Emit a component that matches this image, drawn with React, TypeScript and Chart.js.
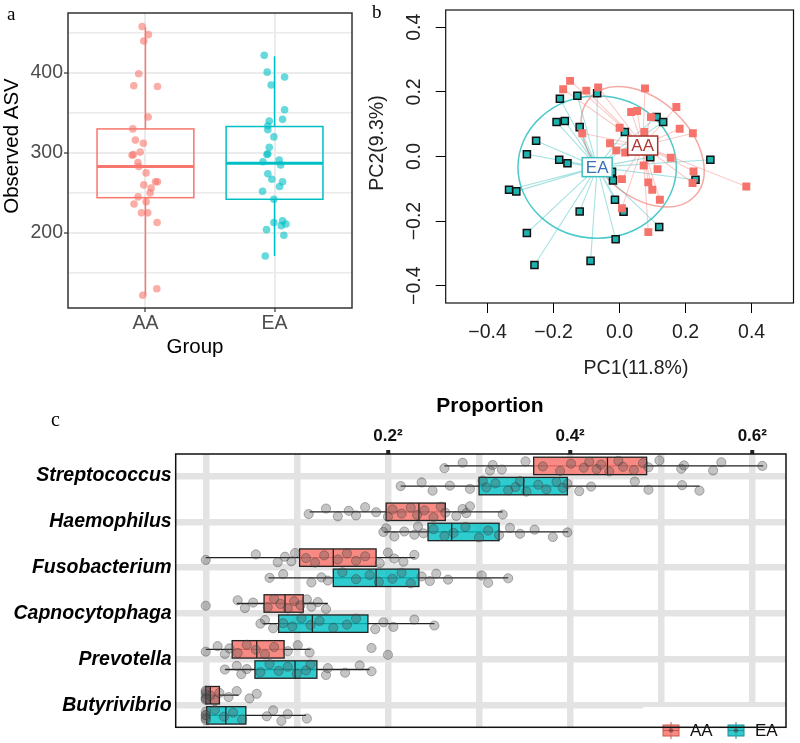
import React, { useEffect, useRef } from 'react';
import { Chart, registerables } from 'chart.js';

Chart.register(...registerables);

const SANS = '"Liberation Sans", Arial, Helvetica, sans-serif';
const SERIF = '"Liberation Serif", "DejaVu Serif", "Times New Roman", serif';
Chart.defaults.font.family = SANS;

const AA_COLOR = '#F8766D';
const EA_COLOR = '#00BFC4';

// ---------------- Panel a : observed ASV ----------------
const A_GROUPS = ['AA', 'EA'];
const A_Y_TICKS = [150, 200, 250, 300, 350, 400, 450];
const A_Y_LABELLED = [200, 300, 400];
// [lower whisker, Q1, median, Q3, upper whisker]
const A_AA_BOX = [122, 244, 283, 330, 457];
const A_EA_BOX = [171, 242, 287, 333, 421];
const A_AA_VALUES = [458, 448, 440, 399, 384, 383, 345, 330, 316, 312, 297, 298, 301, 288, 283, 275, 260, 264, 264, 256, 250, 245, 239, 236, 225, 225, 213, 130, 122];
const A_AA_JITTER = [-0.026, 0.023, -0.013, -0.052, -0.09, 0.093, 0.021, -0.098, -0.078, -0.016, -0.103, -0.094, -0.041, -0.059, -0.052, 0.005, -0.013, 0.093, 0.078, 0.044, 0.036, -0.057, 0.005, -0.088, -0.031, 0.018, 0.09, 0.088, -0.021];
const A_EA_VALUES = [422, 401, 395, 385, 354, 340, 342, 334, 329, 320, 307, 299, 298, 291, 289, 285, 274, 267, 264, 258, 252, 242, 213, 215, 211, 209, 204, 197, 171];
const A_EA_JITTER = [-0.08, -0.057, 0.078, -0.026, 0.078, -0.041, 0.062, -0.052, -0.052, -0.005, -0.041, -0.052, -0.059, 0.036, -0.09, 0.047, -0.052, -0.021, 0.062, 0.039, -0.093, -0.005, -0.005, 0.062, 0.088, 0.052, -0.062, 0.072, -0.072];

// ---------------- Panel b : PCoA ----------------
const B_TICKS = [-0.4, -0.2, 0, 0.2, 0.4];
const B_TICK_LABELS = ['\u22120.4', '\u22120.2', '0.0', '0.2', '0.4'];
const B_AA_X = [-0.15, -0.171, -0.101, -0.065, 0.077, 0.172, 0.035, 0.053, 0.095, 0.0, -0.113, 0.075, 0.182, 0.222, -0.029, -0.01, 0.017, 0.155, 0.073, 0.115, 0.007, 0.224, 0.221, 0.087, 0.099, 0.122, 0.007, 0.087, 0.384];
const B_AA_Y = [0.234, 0.208, 0.204, 0.214, 0.211, 0.153, 0.138, 0.141, 0.122, 0.089, 0.072, 0.076, 0.086, 0.072, 0.041, 0.019, 0.012, -0.004, -0.028, -0.039, -0.07, -0.046, -0.082, -0.08, -0.103, -0.134, -0.16, -0.234, -0.093];
const B_EA_X = [-0.181, -0.128, -0.068, -0.191, -0.166, -0.121, -0.253, -0.281, -0.183, -0.158, 0.016, 0.112, 0.132, 0.093, 0.275, -0.023, -0.02, 0.23, -0.335, -0.313, -0.014, 0.012, -0.121, 0.12, -0.281, -0.012, -0.088, -0.258];
const B_EA_Y = [0.179, 0.188, 0.196, 0.107, 0.11, 0.091, 0.049, 0.007, -0.01, -0.021, 0.076, 0.122, 0.107, -0.002, -0.01, -0.047, -0.074, -0.072, -0.103, -0.108, -0.134, -0.171, -0.17, -0.218, -0.237, -0.256, -0.323, -0.336];
const B_AA_CENTROID = [0.07, 0.034];
const B_EA_CENTROID = [-0.068, -0.033];
// [centre x, centre y, semi-axis a, semi-axis b, angle (deg)]
const B_AA_ELLIPSE = [0.07, 0.03, 0.22, 0.145, -45];
const B_EA_ELLIPSE = [-0.068, -0.033, 0.24, 0.22, 0];

// ---------------- Panel c : proportions ----------------
const C_CATEGORIES = ['Streptococcus', 'Haemophilus', 'Fusobacterium', 'Capnocytophaga', 'Prevotella', 'Butyrivibrio'];
const C_X_GRID = [0, 0.1, 0.2, 0.3, 0.4, 0.5, 0.6];
const C_X_LABELLED = [0.2, 0.4, 0.6];
const C_AA_BOX = [
  [0.262, 0.36, 0.441, 0.484, 0.612],
  [0.114, 0.198, 0.234, 0.263, 0.326],
  [0.0, 0.103, 0.14, 0.187, 0.23],
  [0.034, 0.064, 0.087, 0.107, 0.134],
  [0.0, 0.029, 0.056, 0.086, 0.115],
  [0.0, 0.0, 0.005, 0.015, 0.036],
];
const C_EA_BOX = [
  [0.214, 0.3, 0.349, 0.397, 0.542],
  [0.196, 0.244, 0.27, 0.322, 0.398],
  [0.069, 0.14, 0.187, 0.234, 0.332],
  [0.063, 0.08, 0.117, 0.178, 0.251],
  [0.021, 0.054, 0.098, 0.122, 0.18],
  [0.0, 0.001, 0.022, 0.044, 0.11],
];
const C_AA_POINTS = [
  [0.262, 0.282, 0.312, 0.315, 0.325, 0.351, 0.37, 0.389, 0.401, 0.415, 0.421, 0.429, 0.434, 0.443, 0.453, 0.458, 0.47, 0.48, 0.486, 0.498, 0.522, 0.525, 0.557, 0.566, 0.611],
  [0.113, 0.132, 0.145, 0.157, 0.165, 0.175, 0.187, 0.2, 0.205, 0.215, 0.225, 0.232, 0.24, 0.25, 0.258, 0.263, 0.275, 0.282, 0.286, 0.29, 0.326],
  [0.0, 0.055, 0.079, 0.087, 0.094, 0.098, 0.11, 0.12, 0.13, 0.145, 0.155, 0.165, 0.175, 0.191, 0.2, 0.207, 0.217, 0.229],
  [0.0, 0.035, 0.043, 0.052, 0.068, 0.075, 0.082, 0.09, 0.097, 0.104, 0.111, 0.116, 0.123, 0.132],
  [0.0, 0.013, 0.021, 0.026, 0.035, 0.045, 0.055, 0.065, 0.075, 0.09, 0.101, 0.114, 0.182, 0.2],
  [0.0, 0.0, 0.0, 0.0, 0.0, 0.0, 0.005, 0.01, 0.015, 0.025, 0.034, 0.048, 0.056],
];
const C_EA_POINTS = [
  [0.214, 0.237, 0.249, 0.268, 0.29, 0.304, 0.308, 0.318, 0.332, 0.34, 0.345, 0.352, 0.365, 0.374, 0.385, 0.392, 0.397, 0.41, 0.423, 0.471, 0.486, 0.523, 0.542],
  [0.195, 0.198, 0.207, 0.218, 0.229, 0.233, 0.239, 0.25, 0.262, 0.272, 0.285, 0.3, 0.31, 0.322, 0.334, 0.345, 0.361, 0.381, 0.397],
  [0.07, 0.085, 0.116, 0.127, 0.134, 0.15, 0.165, 0.18, 0.19, 0.205, 0.215, 0.225, 0.237, 0.246, 0.253, 0.266, 0.303, 0.31, 0.332],
  [0.06, 0.065, 0.074, 0.085, 0.095, 0.105, 0.115, 0.125, 0.14, 0.155, 0.165, 0.186, 0.195, 0.206, 0.229, 0.251],
  [0.021, 0.034, 0.039, 0.045, 0.06, 0.07, 0.08, 0.09, 0.1, 0.11, 0.115, 0.132, 0.134, 0.153, 0.169, 0.182],
  [0.0, 0.0, 0.0, 0.0, 0.0, 0.01, 0.02, 0.03, 0.04, 0.067, 0.074, 0.083, 0.09, 0.111],
];
const C_JITTER = [0.05, -0.07, 0.1, -0.02, 0.08, -0.1, 0.01, 0.11, -0.05, 0.04, -0.09, 0.07, -0.03, 0.12, -0.11, 0.02, 0.09, -0.06, 0.03, -0.12, 0.06, -0.01, 0.1, -0.08, 0.0];
const C_DODGE = 0.22;
const C_BOX_HALF = 0.19;

// ---------------- helpers ----------------
type TextItem = { text: string; x: number; y: number; font: string; color: string; rot?: number; align?: CanvasTextAlign; base?: CanvasTextBaseline };

const textPlugin = (id: string, items: TextItem[]) => ({
  id,
  afterDraw(chart: any) {
    const ctx = chart.ctx as CanvasRenderingContext2D;
    items.forEach((t) => {
      ctx.save();
      ctx.translate(t.x, t.y);
      if (t.rot) ctx.rotate(t.rot);
      ctx.font = t.font;
      ctx.fillStyle = t.color;
      ctx.textAlign = t.align || 'center';
      ctx.textBaseline = t.base || 'middle';
      ctx.fillText(t.text, 0, 0);
      ctx.restore();
    });
  },
});

const framePlugin = (id: string, color: string, width: number) => ({
  id,
  afterDatasetsDraw(chart: any) {
    const { ctx, chartArea: a } = chart;
    ctx.save();
    ctx.strokeStyle = color;
    ctx.lineWidth = width;
    ctx.strokeRect(a.left, a.top, a.right - a.left, a.bottom - a.top);
    ctx.restore();
  },
});

const setTicks = (vals: number[]) => (scale: any) => {
  scale.ticks = vals.map((v) => ({ value: v }));
};

// ---------------- Panel a config ----------------
const boxPluginA = {
  id: 'boxA',
  beforeDatasetsDraw(chart: any) {
    const { ctx, scales } = chart;
    const x = scales.x, y = scales.y;
    const items: [number[], number, string][] = [
      [A_AA_BOX, 1, AA_COLOR],
      [A_EA_BOX, 2, EA_COLOR],
    ];
    items.forEach(([b, pos, col]) => {
      const xc = x.getPixelForValue(pos);
      const xl = x.getPixelForValue(pos - 0.375);
      const xr = x.getPixelForValue(pos + 0.375);
      ctx.save();
      ctx.strokeStyle = col;
      ctx.lineWidth = 1.5;
      ctx.beginPath();
      ctx.moveTo(xc, y.getPixelForValue(b[0]));
      ctx.lineTo(xc, y.getPixelForValue(b[1]));
      ctx.moveTo(xc, y.getPixelForValue(b[3]));
      ctx.lineTo(xc, y.getPixelForValue(b[4]));
      ctx.stroke();
      const yt = y.getPixelForValue(b[3]);
      const yb = y.getPixelForValue(b[1]);
      ctx.strokeRect(xl, yt, xr - xl, yb - yt);
      ctx.lineWidth = 3;
      ctx.beginPath();
      const ym = y.getPixelForValue(b[2]);
      ctx.moveTo(xl, ym);
      ctx.lineTo(xr, ym);
      ctx.stroke();
      ctx.restore();
    });
  },
};

const configA = (): any => ({
  type: 'scatter',
  data: {
    datasets: [
      {
        label: 'AA',
        data: A_AA_VALUES.map((v, i) => ({ x: 1 + A_AA_JITTER[i], y: v })),
        backgroundColor: 'rgba(248,118,109,0.6)',
        borderWidth: 0,
        pointRadius: 3.8,
      },
      {
        label: 'EA',
        data: A_EA_VALUES.map((v, i) => ({ x: 2 + A_EA_JITTER[i], y: v })),
        backgroundColor: 'rgba(0,191,196,0.6)',
        borderWidth: 0,
        pointRadius: 3.8,
      },
    ],
  },
  options: {
    responsive: false,
    animation: false,
    events: [],
    layout: { padding: { left: 8, top: 13, right: 448, bottom: 395 } },
    plugins: { legend: { display: false }, tooltip: { enabled: false } },
    scales: {
      x: {
        type: 'linear',
        min: 0.4,
        max: 2.6,
        afterBuildTicks: setTicks([1, 2]),
        afterFit: (s: any) => { s.height = 40; },
        ticks: {
          callback: (v: number) => A_GROUPS[v - 1],
          font: { size: 19.5, family: SANS },
          color: '#4d4d4d',
          padding: 0,
          maxRotation: 0,
          autoSkip: false,
        },
        grid: { color: '#ebebeb', lineWidth: 2, tickColor: '#333', tickLength: 4, tickWidth: 1.2 },
        border: { display: false },
      },
      y: {
        type: 'linear',
        min: 106,
        max: 475,
        afterBuildTicks: setTicks(A_Y_TICKS),
        afterFit: (s: any) => { s.width = 60; },
        ticks: {
          callback: (v: number) => (A_Y_LABELLED.includes(v) ? String(v) : ''),
          font: { size: 19.5, family: SANS },
          color: '#4d4d4d',
          padding: 1,
          autoSkip: false,
        },
        grid: {
          color: '#ebebeb',
          lineWidth: (c: any) => (A_Y_LABELLED.includes(c.tick && c.tick.value) ? 2 : 1.4),
          tickColor: (c: any) => (A_Y_LABELLED.includes(c.tick && c.tick.value) ? '#333' : 'rgba(0,0,0,0)'),
          tickLength: 4,
          tickWidth: 1.2,
        },
        border: { display: false },
      },
    },
  },
  plugins: [
    boxPluginA,
    framePlugin('frameA', '#333', 1.5),
    textPlugin('textA', [
      { text: 'a', x: 7, y: 20, font: `19px ${SERIF}`, color: '#000', align: 'left', base: 'alphabetic' },
      { text: 'Observed ASV', x: 12.5, y: 146, font: `20.5px ${SANS}`, color: '#000', rot: -Math.PI / 2 },
      { text: 'Group', x: 195, y: 347, font: `20.5px ${SANS}`, color: '#000' },
    ]),
  ],
});

// ---------------- Panel b config ----------------
const spider = (xs: number[], ys: number[], c: number[]) =>
  xs.flatMap((x, i) => [{ x: c[0], y: c[1] }, { x, y: ys[i] }]);

const ellipsePluginB = {
  id: 'ellipseB',
  beforeDatasetsDraw(chart: any) {
    const { ctx, scales } = chart;
    const x = scales.x, y = scales.y;
    const sx = x.getPixelForValue(1) - x.getPixelForValue(0);
    const sy = y.getPixelForValue(0) - y.getPixelForValue(1);
    const items: [number[], string][] = [
      [B_EA_ELLIPSE, 'rgba(0,178,180,0.7)'],
      [B_AA_ELLIPSE, 'rgba(240,140,132,0.75)'],
    ];
    items.forEach(([e, col]) => {
      ctx.save();
      ctx.translate(x.getPixelForValue(e[0]), y.getPixelForValue(e[1]));
      ctx.scale(sx, -sy);
      ctx.rotate((e[4] * Math.PI) / 180);
      ctx.beginPath();
      ctx.ellipse(0, 0, e[2], e[3], 0, 0, Math.PI * 2);
      ctx.restore();
      ctx.save();
      ctx.strokeStyle = col;
      ctx.lineWidth = 1.5;
      ctx.stroke();
      ctx.restore();
    });
  },
};

const labelPluginB = {
  id: 'labelB',
  afterDatasetsDraw(chart: any) {
    const { ctx, scales } = chart;
    const x = scales.x, y = scales.y;
    const items: [string, number[], string, string][] = [
      ['EA', B_EA_CENTROID, '#3fc0c0', '#3b72b5'],
      ['AA', B_AA_CENTROID, '#a8332d', '#b03a33'],
    ];
    items.forEach(([t, c, border, color]) => {
      const px = x.getPixelForValue(c[0]);
      const py = y.getPixelForValue(c[1]);
      ctx.save();
      ctx.fillStyle = '#fff';
      ctx.fillRect(px - 15, py - 9.5, 30, 19);
      ctx.strokeStyle = border;
      ctx.lineWidth = 1.5;
      ctx.strokeRect(px - 15, py - 9.5, 30, 19);
      ctx.fillStyle = color;
      ctx.font = `17px ${SANS}`;
      ctx.textAlign = 'center';
      ctx.textBaseline = 'middle';
      ctx.fillText(t, px, py + 1);
      ctx.restore();
    });
  },
};

const yLabelsPluginB = {
  id: 'ylabB',
  afterDraw(chart: any) {
    const { ctx, scales } = chart;
    const y = scales.y;
    B_TICKS.forEach((v, i) => {
      ctx.save();
      ctx.translate(415, y.getPixelForValue(v));
      ctx.rotate(-Math.PI / 2);
      ctx.font = `19.5px ${SANS}`;
      ctx.fillStyle = '#222';
      ctx.textAlign = 'center';
      ctx.textBaseline = 'middle';
      ctx.fillText(B_TICK_LABELS[i], 0, 0);
      ctx.restore();
    });
  },
};

const configB = (): any => ({
  type: 'scatter',
  data: {
    datasets: [
      {
        label: 'AA',
        data: B_AA_X.map((v, i) => ({ x: v, y: B_AA_Y[i] })),
        pointStyle: 'rect',
        pointRadius: 5.6,
        backgroundColor: '#F5736A',
        borderWidth: 0,
      },
      {
        label: 'EA',
        data: B_EA_X.map((v, i) => ({ x: v, y: B_EA_Y[i] })),
        pointStyle: 'rect',
        pointRadius: 5,
        backgroundColor: '#1DB2AE',
        borderColor: '#111',
        borderWidth: 1.5,
      },
      {
        label: 'AA spider',
        data: spider(B_AA_X, B_AA_Y, B_AA_CENTROID),
        showLine: true,
        pointRadius: 0,
        borderColor: 'rgba(244,140,132,0.45)',
        borderWidth: 1.1,
      },
      {
        label: 'EA spider',
        data: spider(B_EA_X, B_EA_Y, B_EA_CENTROID),
        showLine: true,
        pointRadius: 0,
        borderColor: 'rgba(60,190,190,0.45)',
        borderWidth: 1.1,
      },
    ],
  },
  options: {
    responsive: false,
    animation: false,
    events: [],
    layout: { padding: { left: 415.7, top: 10, right: 3.3, bottom: 400 } },
    plugins: { legend: { display: false }, tooltip: { enabled: false } },
    scales: {
      x: {
        type: 'linear',
        min: -0.527,
        max: 0.527,
        afterBuildTicks: setTicks(B_TICKS),
        afterFit: (s: any) => { s.height = 40; },
        ticks: {
          callback: (v: number) => B_TICK_LABELS[B_TICKS.indexOf(v)],
          font: { size: 19.5, family: SANS },
          color: '#222',
          padding: 8,
          maxRotation: 0,
          autoSkip: false,
        },
        grid: { drawOnChartArea: false, tickLength: 10, tickColor: '#000', tickWidth: 1 },
        border: { display: false },
      },
      y: {
        type: 'linear',
        min: -0.4535,
        max: 0.4535,
        afterBuildTicks: setTicks(B_TICKS),
        afterFit: (s: any) => { s.width = 30; },
        ticks: { display: false },
        grid: { drawOnChartArea: false, tickLength: 10, tickColor: '#000', tickWidth: 1 },
        border: { display: false },
      },
    },
  },
  plugins: [
    ellipsePluginB,
    labelPluginB,
    framePlugin('frameB', '#111', 1.2),
    yLabelsPluginB,
    textPlugin('textB', [
      { text: 'b', x: 372, y: 18, font: `19px ${SERIF}`, color: '#000', align: 'left', base: 'alphabetic' },
      { text: 'PC1(11.8%)', x: 636, y: 369, font: `19.5px ${SANS}`, color: '#222' },
      { text: 'PC2(9.3%)', x: 378, y: 143, font: `19.5px ${SANS}`, color: '#222', rot: -Math.PI / 2 },
    ]),
  ],
});

// ---------------- Panel c config ----------------
const cPoints = (rows: number[][], side: number, rev: boolean) =>
  rows.flatMap((row, i) =>
    row.map((v, k) => ({ x: v, y: i + side + C_JITTER[rev ? C_JITTER.length - 1 - k : k] }))
  );

const boxPluginC = {
  id: 'boxC',
  beforeDatasetsDraw(chart: any) {
    const { ctx, scales } = chart;
    const x = scales.x, y = scales.y;
    const draw = (b: number[], yc: number, fill: string) => {
      const px = (v: number) => x.getPixelForValue(v);
      const y1 = y.getPixelForValue(yc - C_BOX_HALF);
      const y2 = y.getPixelForValue(yc + C_BOX_HALF);
      const top = Math.min(y1, y2);
      const h = Math.abs(y2 - y1);
      const ym = y.getPixelForValue(yc);
      ctx.save();
      ctx.strokeStyle = '#222';
      ctx.lineWidth = 1.3;
      ctx.beginPath();
      ctx.moveTo(px(b[0]), ym);
      ctx.lineTo(px(b[4]), ym);
      ctx.stroke();
      ctx.fillStyle = fill;
      ctx.fillRect(px(b[1]), top, px(b[3]) - px(b[1]), h);
      ctx.strokeRect(px(b[1]), top, px(b[3]) - px(b[1]), h);
      ctx.beginPath();
      ctx.moveTo(px(b[2]), top);
      ctx.lineTo(px(b[2]), top + h);
      ctx.stroke();
      ctx.restore();
    };
    C_CATEGORIES.forEach((_, i) => {
      draw(C_AA_BOX[i], i - C_DODGE, 'rgba(248,118,109,0.85)');
      draw(C_EA_BOX[i], i + C_DODGE, 'rgba(0,191,196,0.82)');
    });
  },
};

const legendPluginC = {
  id: 'legendC',
  afterDatasetsDraw(chart: any) {
    const ctx = chart.ctx as CanvasRenderingContext2D;
    ctx.save();
    ctx.fillStyle = '#fff';
    ctx.fillRect(643, 707, 143, 32);
    const keys: [number, string, string, string][] = [
      [663, 'rgba(248,118,109,0.85)', '#c9574f', 'AA'],
      [728, 'rgba(0,191,196,0.82)', '#1e8f92', 'EA'],
    ];
    keys.forEach(([kx, fill, stroke, label]) => {
      const cx = kx + 8;
      ctx.strokeStyle = stroke;
      ctx.lineWidth = 1;
      ctx.beginPath();
      ctx.moveTo(cx, 722);
      ctx.lineTo(cx, 739);
      ctx.stroke();
      ctx.fillStyle = fill;
      ctx.fillRect(kx, 725, 16, 11);
      ctx.strokeRect(kx, 725, 16, 11);
      ctx.beginPath();
      ctx.moveTo(kx, 730.5);
      ctx.lineTo(kx + 16, 730.5);
      ctx.stroke();
      ctx.fillStyle = 'rgba(90,60,60,0.6)';
      ctx.beginPath();
      ctx.arc(cx, 730.5, 2.3, 0, Math.PI * 2);
      ctx.fill();
      ctx.fillStyle = '#111';
      ctx.font = `17px ${SANS}`;
      ctx.textAlign = 'left';
      ctx.textBaseline = 'middle';
      ctx.fillText(label, kx + 27, 731);
    });
    ctx.restore();
  },
};

const configC = (): any => ({
  type: 'scatter',
  data: {
    datasets: [
      {
        label: 'AA points',
        data: cPoints(C_AA_POINTS, -C_DODGE, false),
        pointRadius: 4.6,
        backgroundColor: 'rgba(80,80,80,0.33)',
        borderColor: 'rgba(50,50,50,0.35)',
        borderWidth: 1,
      },
      {
        label: 'EA points',
        data: cPoints(C_EA_POINTS, C_DODGE, true),
        pointRadius: 4.6,
        backgroundColor: 'rgba(80,80,80,0.33)',
        borderColor: 'rgba(50,50,50,0.35)',
        borderWidth: 1,
      },
    ],
  },
  options: {
    responsive: false,
    animation: false,
    events: [],
    layout: { padding: { left: 5.7, top: 414, right: 14, bottom: 3.7 } },
    plugins: { legend: { display: false }, tooltip: { enabled: false } },
    scales: {
      x: {
        type: 'linear',
        position: 'top',
        min: -0.033,
        max: 0.637,
        afterBuildTicks: setTicks(C_X_GRID),
        afterFit: (s: any) => { s.height = 40; },
        ticks: {
          callback: (v: number) => (C_X_LABELLED.includes(v) ? `${v.toFixed(1)}\u00B2` : ''),
          font: { size: 17, family: SANS, weight: 'bold' },
          color: '#111',
          padding: 3,
          maxRotation: 0,
          autoSkip: false,
        },
        grid: {
          color: '#e3e3e3',
          lineWidth: 6.5,
          tickLength: 4,
          tickWidth: 4,
          tickColor: (c: any) => (C_X_LABELLED.includes(c.tick && c.tick.value) ? '#222' : 'rgba(0,0,0,0)'),
        },
        border: { display: false },
      },
      y: {
        type: 'linear',
        reverse: true,
        min: -0.48,
        max: 5.48,
        afterBuildTicks: setTicks(C_CATEGORIES.map((_, i) => i)),
        afterFit: (s: any) => { s.width = 170; },
        ticks: {
          callback: (v: number) => C_CATEGORIES[v],
          font: { size: 19.5, family: SANS, weight: 'bold', style: 'italic' },
          color: '#000',
          padding: 4,
          autoSkip: false,
        },
        grid: { color: '#e3e3e3', lineWidth: 6.5, drawTicks: false },
        border: { display: false },
      },
    },
  },
  plugins: [
    boxPluginC,
    legendPluginC,
    framePlugin('frameC', '#111', 1.5),
    textPlugin('textC', [
      { text: 'c', x: 51, y: 426, font: `20px ${SERIF}`, color: '#000', align: 'left', base: 'alphabetic' },
      { text: 'Proportion', x: 490, y: 412, font: `bold 21px ${SANS}`, color: '#000', base: 'alphabetic' },
    ]),
  ],
});

export default function App() {
  const refA = useRef<HTMLCanvasElement>(null);
  const refB = useRef<HTMLCanvasElement>(null);
  const refC = useRef<HTMLCanvasElement>(null);

  useEffect(() => {
    const charts = [
      new Chart(refA.current as HTMLCanvasElement, configA()),
      new Chart(refB.current as HTMLCanvasElement, configB()),
      new Chart(refC.current as HTMLCanvasElement, configC()),
    ];
    return () => charts.forEach((c) => c.destroy());
  }, []);

  const cs: React.CSSProperties = { position: 'absolute', left: 0, top: 0, width: 800, height: 743 };
  return (
    <div style={{ position: 'absolute', left: 0, top: 0, width: 800, height: 743, background: '#fff', overflow: 'hidden' }}>
      <canvas ref={refC} width={800} height={743} style={cs} />
      <canvas ref={refA} width={800} height={743} style={cs} />
      <canvas ref={refB} width={800} height={743} style={cs} />
    </div>
  );
}
